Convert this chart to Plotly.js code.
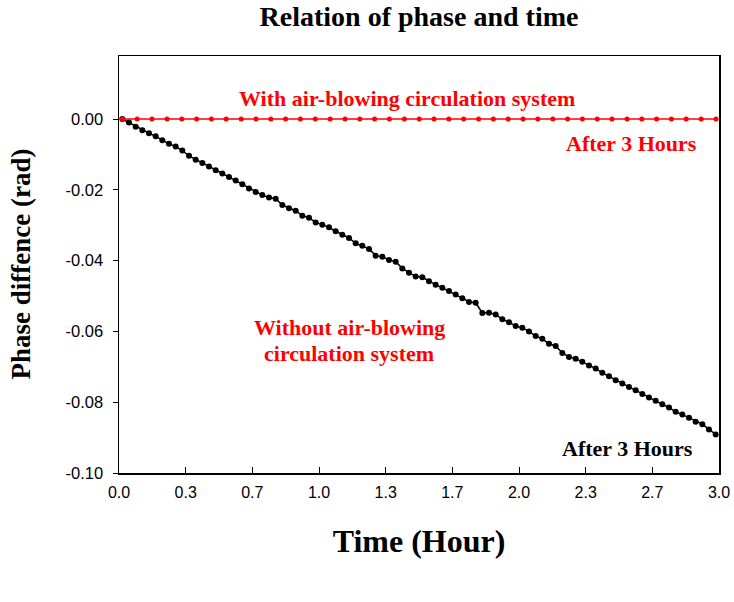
<!DOCTYPE html>
<html>
<head>
<meta charset="utf-8">
<script src="https://cdn.plot.ly/plotly-3.0.1.min.js"></script>
<style>html,body{margin:0;padding:0;background:#fff;}#chart{width:734px;height:602px;}</style>
</head>
<body>
<div id="chart"></div>
<script>
// Time (minutes) and phase difference (rad), without air-blowing system
const blackMinutes = [1,3,5,7,9,11,13,15,17,19,21,23,25,27,29,31,33,35,37,39,41,43,45,47,49,51,53,55,57,59,61,63,65,67,69,71,73,75,77,79,81,83,85,87,89,91,93,95,97,99,101,103,105,107,109,111,113,115,117,119,121,123,125,127,129,131,133,135,137,139,141,143,145,147,149,151,153,155,157,159,161,163,165,167,169,171,173,175,177,179];
const blackPhase = [0.0000,-0.0010,-0.0022,-0.0032,-0.0040,-0.0049,-0.0060,-0.0070,-0.0078,-0.0089,
  -0.0104,-0.0115,-0.0124,-0.0134,-0.0145,-0.0154,-0.0164,-0.0174,-0.0184,-0.0196,
  -0.0206,-0.0215,-0.0222,-0.0225,-0.0243,-0.0252,-0.0259,-0.0273,-0.0279,-0.0292,
  -0.0299,-0.0306,-0.0317,-0.0327,-0.0336,-0.0351,-0.0358,-0.0367,-0.0386,-0.0389,
  -0.0398,-0.0403,-0.0422,-0.0434,-0.0445,-0.0447,-0.0458,-0.0468,-0.0477,-0.0486,
  -0.0496,-0.0506,-0.0517,-0.0519,-0.0548,-0.0547,-0.0552,-0.0566,-0.0574,-0.0585,
  -0.0590,-0.0600,-0.0613,-0.0621,-0.0635,-0.0641,-0.0661,-0.0672,-0.0677,-0.0686,
  -0.0696,-0.0705,-0.0717,-0.0727,-0.0738,-0.0747,-0.0757,-0.0766,-0.0777,-0.0787,
  -0.0796,-0.0806,-0.0815,-0.0827,-0.0835,-0.0844,-0.0855,-0.0862,-0.0877,-0.0891];

// Time (hours) and phase difference (rad), with air-blowing system
const redHours = [0.017,0.091,0.165,0.240,0.314,0.388,0.462,0.536,0.611,0.685,0.759,0.833,0.907,0.981,1.056,1.130,1.204,1.278,1.352,1.427,1.501,1.575,1.649,1.723,1.798,1.872,1.946,2.020,2.094,2.169,2.243,2.317,2.391,2.465,2.540,2.614,2.688,2.762,2.836,2.911,2.985];
const redPhase = [0,0,0,0,0,0,0,0,0,0,0,0,0,0,0,0,0,0,0,0,0,0,0,0,0,0,0,0,0,0,0,0,0,0,0,0,0,0,0,0,0];

const xTickVals = [0, 0.3333, 0.6667, 1, 1.3333, 1.6667, 2, 2.3333, 2.6667, 3];
const xTickText = ['0.0','0.3','0.7','1.0','1.3','1.7','2.0','2.3','2.7','3.0'];
const yTickVals = [0, -0.02, -0.04, -0.06, -0.08, -0.10];
const yTickText = ['0.00','-0.02','-0.04','-0.06','-0.08','-0.10'];

const serif = 'Liberation Serif, Times New Roman, serif';
const sans = 'Liberation Sans, Arial, sans-serif';

const traces = [
  {
    x: blackMinutes.map(m => m / 60), y: blackPhase,
    type: 'scatter', mode: 'lines+markers', name: 'Without air-blowing',
    line: {color: '#000', width: 1.5},
    marker: {color: '#000', size: 6},
    showlegend: false, cliponaxis: false
  },
  {
    x: redHours, y: redPhase,
    type: 'scatter', mode: 'lines+markers', name: 'With air-blowing',
    line: {color: '#ff0000', width: 1.5},
    marker: {color: '#ff0000', size: 5},
    showlegend: false, cliponaxis: false
  }
];

const layout = {
  width: 734, height: 602,
  margin: {l: 119, r: 15, t: 56, b: 129},
  paper_bgcolor: '#fff', plot_bgcolor: '#fff',
  showlegend: false,
  title: {
    text: '<b>Relation of phase and time</b>',
    font: {family: serif, size: 28, color: '#000'},
    xref: 'paper', x: 0.5, xanchor: 'center',
    yref: 'container', y: 1 - 16/602, yanchor: 'middle'
  },
  xaxis: {
    range: [0, 3], tickmode: 'array', tickvals: xTickVals, ticktext: xTickText,
    ticks: 'inside', ticklen: 6, tickwidth: 1, tickcolor: '#000',
    showline: true, linecolor: '#000', linewidth: 1.5, mirror: true,
    showgrid: false, zeroline: false,
    tickfont: {family: sans, size: 16, color: '#000'},
    ticklabelstandoff: 4,
    title: {text: '<b>Time (Hour)</b>', font: {family: serif, size: 32, color: '#000'}, standoff: 30}
  },
  yaxis: {
    range: [-0.10, 0.0178], tickmode: 'array', tickvals: yTickVals, ticktext: yTickText,
    ticks: 'outside', ticklen: 5, tickwidth: 1, tickcolor: '#000',
    showline: true, linecolor: '#000', linewidth: 1.5, mirror: true,
    showgrid: false, zeroline: false,
    tickfont: {family: sans, size: 16.5, color: '#000'},
    ticklabelstandoff: 6
  },
  annotations: [
    {x: -0.165, y: 0.5, xref: 'paper', yref: 'paper', showarrow: false, textangle: -90,
     xanchor: 'center', yanchor: 'middle',
     text: '<b>Phase diffence (rad)</b>', font: {family: serif, size: 27, color: '#000'}},
    {x: 1.439, y: 0.00585, xref: 'x', yref: 'y', showarrow: false,
     text: '<b>With air-blowing circulation system</b>', font: {family: serif, size: 22, color: '#ff0000'}},
    {x: 2.56, y: -0.0069, xref: 'x', yref: 'y', showarrow: false,
     text: '<b>After 3 Hours</b>', font: {family: serif, size: 22, color: '#ff0000'}},
    {x: 1.154, y: -0.0588, xref: 'x', yref: 'y', showarrow: false,
     text: '<b>Without air-blowing</b>', font: {family: serif, size: 22, color: '#ff0000'}},
    {x: 1.152, y: -0.0662, xref: 'x', yref: 'y', showarrow: false,
     text: '<b>circulation system</b>', font: {family: serif, size: 22, color: '#ff0000'}},
    {x: 2.544, y: -0.0930, xref: 'x', yref: 'y', showarrow: false,
     text: '<b>After 3 Hours</b>', font: {family: serif, size: 22, color: '#000'}}
  ]
};

Plotly.newPlot('chart', traces, layout, {displayModeBar: false, staticPlot: true});
</script>
</body>
</html>
